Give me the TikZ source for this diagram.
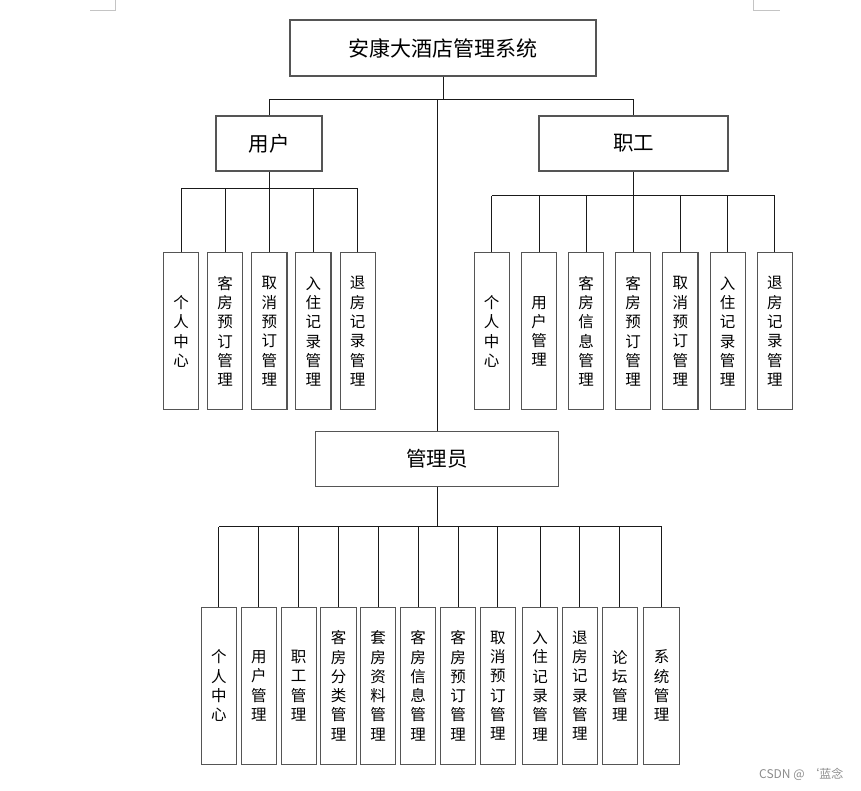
\documentclass[tikz,border=0pt]{standalone}
\usepackage{fontspec}
\newfontfamily\cjk{Noto Sans CJK SC}
\definecolor{boxline}{HTML}{555555}
\definecolor{conn}{HTML}{1A1A1A}
\definecolor{markgray}{HTML}{C4C4C4}
\tikzset{
  x=1pt, y=-1pt,
  topbox/.style={draw=boxline, line width=1.1pt, rectangle, inner sep=0pt, font=\cjk\fontsize{21}{25}\selectfont},
  midbox/.style={draw=boxline, line width=1.1pt, rectangle, inner sep=0pt, minimum height=55pt, font=\cjk\fontsize{20.5}{24}\selectfont},
  leaf/.style={draw=boxline, line width=1.1pt, rectangle, inner sep=0pt, minimum width=35.3pt, minimum height=157pt, align=center, font=\cjk\fontsize{15.5}{19.3}\selectfont},
  link/.style={draw=conn, line width=0.9pt},
}
\begin{document}
\begin{tikzpicture}
\useasboundingbox (0,0) rectangle (861,790);
% page corner marks
\draw[markgray, line width=0.8pt] (90,10.5) -- (115.3,10.5) -- (115.3,0);
\draw[markgray, line width=0.8pt] (753.3,0) -- (753.3,10.5) -- (780,10.5);

% main nodes
\node[topbox, minimum width=306pt, minimum height=56pt] (top) at (443,48) {安康大酒店管理系统};
\node[midbox, minimum width=106pt] (user) at (269,143.5) {用户};
\node[midbox, minimum width=189pt] (staff) at (633.5,143.5) {职工};
\node[midbox, minimum width=243pt] (admin) at (437,459) {管理员};

% bus coordinates
\coordinate (b0) at (443,99);
\coordinate (ub) at (269,188.3);
\coordinate (sb) at (633.5,195.7);
\coordinate (ab) at (437,526.7);

% top level connectors
\draw[link] (top.south) -- (b0);
\draw[link] (user.north) -- (user.north |- b0) -- (staff.north |- b0) -- (staff.north);
\draw[link] (admin.north) -- (admin.north |- b0);

% user leaves
\node[leaf] (u1) at (181.2,331.4) {个\\人\\中\\心};
\node[leaf] (u2) at (225.2,331.4) {客\\房\\预\\订\\管\\理};
\node[leaf] (u3) at (269.3,331.4) {取\\消\\预\\订\\管\\理};
\node[leaf] (u4) at (313.3,331.4) {入\\住\\记\\录\\管\\理};
\node[leaf] (u5) at (357.7,331.4) {退\\房\\记\\录\\管\\理};
\draw[link] (user.south) -- (user.south |- ub);
\draw[link] (u1.north |- ub) -- (u5.north |- ub);
\foreach \i in {1,...,5} { \draw[link] (u\i.north) -- (u\i.north |- ub); }

% staff leaves
\node[leaf] (s1) at (491.7,331.4) {个\\人\\中\\心};
\node[leaf] (s2) at (539,331.4) {用\\户\\管\\理};
\node[leaf] (s3) at (586,331.4) {客\\房\\信\\息\\管\\理};
\node[leaf] (s4) at (633.2,331.4) {客\\房\\预\\订\\管\\理};
\node[leaf] (s5) at (680.3,331.4) {取\\消\\预\\订\\管\\理};
\node[leaf] (s6) at (727.7,331.4) {入\\住\\记\\录\\管\\理};
\node[leaf] (s7) at (774.9,331.4) {退\\房\\记\\录\\管\\理};
\draw[link] (staff.south) -- (staff.south |- sb);
\draw[link] (s1.north |- sb) -- (s7.north |- sb);
\foreach \i in {1,...,7} { \draw[link] (s\i.north) -- (s\i.north |- sb); }

% admin leaves
\node[leaf] (a1) at (218.8,685.8) {个\\人\\中\\心};
\node[leaf] (a2) at (258.8,685.8) {用\\户\\管\\理};
\node[leaf] (a3) at (298.7,685.8) {职\\工\\管\\理};
\node[leaf] (a4) at (338.5,685.8) {客\\房\\分\\类\\管\\理};
\node[leaf] (a5) at (378.2,685.8) {套\\房\\资\\料\\管\\理};
\node[leaf] (a6) at (418.2,685.8) {客\\房\\信\\息\\管\\理};
\node[leaf] (a7) at (458,685.8) {客\\房\\预\\订\\管\\理};
\node[leaf] (a8) at (497.8,685.8) {取\\消\\预\\订\\管\\理};
\node[leaf] (a9) at (540.2,685.8) {入\\住\\记\\录\\管\\理};
\node[leaf] (a10) at (579.8,685.8) {退\\房\\记\\录\\管\\理};
\node[leaf] (a11) at (619.8,685.8) {论\\坛\\管\\理};
\node[leaf] (a12) at (661.5,685.8) {系\\统\\管\\理};
\draw[link] (admin.south) -- (admin.south |- ab);
\draw[link] (a1.north |- ab) -- (a12.north |- ab);
\foreach \i in {1,...,12} { \draw[link] (a\i.north) -- (a\i.north |- ab); }

% watermark
\node[anchor=west, inner sep=0pt, text=black!45, font=\cjk\fontsize{12}{14}\selectfont] (wm) at (759,774) {CSDN @ ‘蓝念};
\end{tikzpicture}
\end{document}
